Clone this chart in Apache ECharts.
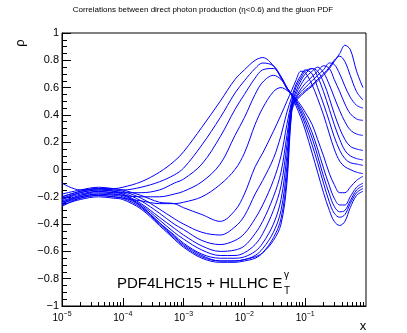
<!DOCTYPE html>
<html><head><meta charset="utf-8">
<script src="https://cdn.jsdelivr.net/npm/echarts@6/dist/echarts.min.js"></script>
<style>html,body{margin:0;padding:0;background:#fff}#c{width:407px;height:333px}</style>
</head><body><div id="c"></div>
<script>
// x sample positions (Bjorken x)
const xs = [1e-5, 2e-5, 4e-5, 7e-5, 1e-4, 2e-4, 4e-4, 7e-4, 1e-3, 2e-3, 4e-3, 7e-3, 0.01, 0.015, 0.02, 0.03, 0.04, 0.05, 0.06, 0.07, 0.085, 0.1, 0.13, 0.16, 0.2, 0.25, 0.3, 0.37, 0.45, 0.55, 0.7, 0.89];

// correlation curves, one per E_T bin
const curve01 = [-0.20, -0.16, -0.14, -0.14, -0.13, -0.09, -0.02, 0.06, 0.13, 0.31, 0.50, 0.66, 0.73, 0.80, 0.82, 0.76, 0.67, 0.59, 0.54, 0.47, 0.38, 0.29, 0.12, -0.02, -0.17, -0.30, -0.38, -0.41, -0.38, -0.28, -0.19, -0.16];
const curve02 = [-0.22, -0.17, -0.15, -0.15, -0.15, -0.13, -0.09, -0.04, 0.01, 0.18, 0.38, 0.56, 0.65, 0.74, 0.78, 0.76, 0.68, 0.60, 0.55, 0.49, 0.41, 0.33, 0.18, 0.05, -0.10, -0.24, -0.32, -0.35, -0.33, -0.25, -0.17, -0.14];
const curve03 = [-0.24, -0.19, -0.16, -0.17, -0.17, -0.17, -0.15, -0.10, -0.07, 0.04, 0.24, 0.44, 0.55, 0.67, 0.73, 0.74, 0.68, 0.60, 0.55, 0.50, 0.43, 0.36, 0.23, 0.10, -0.05, -0.18, -0.27, -0.31, -0.30, -0.23, -0.15, -0.12];
const curve04 = [-0.25, -0.20, -0.18, -0.18, -0.19, -0.20, -0.20, -0.18, -0.16, -0.09, 0.04, 0.25, 0.38, 0.55, 0.64, 0.69, 0.66, 0.60, 0.55, 0.51, 0.45, 0.39, 0.27, 0.15, 0.01, -0.12, -0.21, -0.26, -0.26, -0.20, -0.13, -0.10];
const curve05 = [-0.27, -0.21, -0.19, -0.20, -0.21, -0.23, -0.25, -0.25, -0.24, -0.20, -0.11, 0.00, 0.12, 0.33, 0.45, 0.57, 0.60, 0.58, 0.55, 0.52, 0.47, 0.42, 0.33, 0.22, 0.10, -0.03, -0.11, -0.17, -0.17, -0.13, -0.08, -0.05];
const curve06 = [-0.18, -0.15, -0.13, -0.14, -0.15, -0.19, -0.24, -0.25, -0.28, -0.33, -0.38, -0.30, -0.18, 0.02, 0.12, 0.28, 0.40, 0.50, 0.58, 0.65, 0.72, 0.71, 0.62, 0.52, 0.40, 0.26, 0.15, 0.06, 0.02, 0.00, -0.02, -0.03];
const curve07 = [-0.20, -0.16, -0.14, -0.15, -0.16, -0.21, -0.29, -0.36, -0.40, -0.46, -0.48, -0.42, -0.34, -0.18, -0.08, 0.08, 0.25, 0.42, 0.53, 0.62, 0.69, 0.73, 0.70, 0.60, 0.48, 0.35, 0.24, 0.14, 0.08, 0.05, 0.04, 0.03];
const curve08 = [-0.21, -0.17, -0.15, -0.16, -0.17, -0.23, -0.32, -0.40, -0.44, -0.52, -0.55, -0.52, -0.47, -0.36, -0.26, -0.08, 0.10, 0.33, 0.50, 0.60, 0.67, 0.72, 0.74, 0.68, 0.57, 0.44, 0.33, 0.22, 0.14, 0.10, 0.08, 0.07];
const curve09 = [-0.22, -0.18, -0.16, -0.17, -0.18, -0.25, -0.35, -0.43, -0.48, -0.56, -0.60, -0.59, -0.56, -0.47, -0.38, -0.20, -0.02, 0.25, 0.48, 0.57, 0.65, 0.70, 0.74, 0.72, 0.64, 0.52, 0.41, 0.30, 0.22, 0.17, 0.15, 0.14];
const curve10 = [-0.23, -0.19, -0.17, -0.18, -0.19, -0.26, -0.37, -0.46, -0.51, -0.59, -0.63, -0.63, -0.61, -0.55, -0.47, -0.30, -0.12, 0.18, 0.47, 0.55, 0.62, 0.67, 0.72, 0.75, 0.71, 0.62, 0.53, 0.43, 0.35, 0.29, 0.26, 0.25];
const curve11 = [-0.24, -0.20, -0.18, -0.19, -0.20, -0.27, -0.39, -0.48, -0.54, -0.62, -0.65, -0.65, -0.64, -0.60, -0.54, -0.40, -0.22, 0.10, 0.46, 0.53, 0.59, 0.63, 0.68, 0.72, 0.76, 0.74, 0.66, 0.57, 0.48, 0.41, 0.37, 0.36];
const curve12 = [-0.25, -0.21, -0.19, -0.20, -0.21, -0.28, -0.40, -0.50, -0.56, -0.64, -0.67, -0.67, -0.66, -0.63, -0.58, -0.46, -0.30, 0.02, 0.45, 0.52, 0.57, 0.60, 0.65, 0.69, 0.73, 0.78, 0.77, 0.70, 0.61, 0.53, 0.47, 0.45];
const curve13 = [-0.26, -0.22, -0.20, -0.21, -0.22, -0.29, -0.41, -0.51, -0.57, -0.65, -0.68, -0.68, -0.67, -0.65, -0.61, -0.50, -0.36, -0.05, 0.44, 0.51, 0.55, 0.58, 0.62, 0.66, 0.70, 0.75, 0.80, 0.83, 0.79, 0.69, 0.57, 0.51];
const curve14 = [-0.10, -0.15, -0.14, -0.16, -0.18, -0.27, -0.39, -0.49, -0.55, -0.63, -0.67, -0.67, -0.66, -0.64, -0.61, -0.52, -0.40, -0.10, 0.42, 0.50, 0.54, 0.57, 0.61, 0.65, 0.69, 0.74, 0.79, 0.85, 0.91, 0.88, 0.72, 0.60];

const curves = [curve01, curve02, curve03, curve04, curve05, curve06, curve07, curve08, curve09, curve10, curve11, curve12, curve13, curve14];

// axis ticks
const xMin = 1e-5, xMax = 1;
const xDecades = [1e-5, 1e-4, 1e-3, 1e-2, 1e-1];
const xMinorTicks = [];
xDecades.forEach(d => { for (let m = 2; m <= 9; m++) xMinorTicks.push(m * d); });
const yMin = -1, yMax = 1, yStep = 0.2;

const titleText = 'Correlations between direct photon production (\u03b7<0.6) and the gluon PDF';
const labelMain = 'PDF4LHC15 + HLLHC E';
const labelSup = '\u03b3';
const labelSub = 'T';
const yTitle = '\u03c1';
const xTitle = 'x';

const FONT = '"Liberation Sans", Arial, Helvetica, sans-serif';

const chart = echarts.init(document.getElementById('c'), null, {renderer: 'canvas'});

const series = curves.map((c, i) => ({
  type: 'line',
  xAxisIndex: 0,
  data: xs.map((x, j) => [x, c[j]]),
  showSymbol: false,
  smooth: 0.35,
  lineStyle: {color: '#0000ff', width: 1},
  silent: true
}));

chart.setOption({
  animation: false,
  backgroundColor: '#fff',
  grid: {left: 62, right: 41, top: 33, bottom: 27, show: true, borderColor: '#000', borderWidth: 1, backgroundColor: 'transparent'},
  xAxis: [
    {
      type: 'log', logBase: 10, min: xMin, max: xMax, position: 'bottom',
      axisLine: {show: true, onZero: false, lineStyle: {color: '#000', width: 1}},
      axisTick: {show: true, inside: true, length: 8, customValues: xDecades, lineStyle: {color: '#000'}},
      axisLabel: {
        margin: 5,
        customValues: xDecades,
        formatter: v => {
          const e = Math.round(Math.log10(v));
          if (e >= 0) return '';
          return '{b|10}{s|\u2212' + Math.abs(e) + '}';
        },
        rich: {
          b: {fontSize: 10, fontFamily: FONT, color: '#000', verticalAlign: 'bottom'},
          s: {fontSize: 7, fontFamily: FONT, color: '#000', verticalAlign: 'bottom', padding: [0, 0, 5, 0]}
        }
      },
      splitLine: {show: false}
    },
    {
      type: 'log', logBase: 10, min: xMin, max: xMax, position: 'bottom',
      axisLine: {show: false, onZero: false},
      axisTick: {show: true, inside: true, length: 4, customValues: xMinorTicks, lineStyle: {color: '#000'}},
      axisLabel: {show: false},
      splitLine: {show: false}
    }
  ],
  yAxis: {
    type: 'value', min: yMin, max: yMax, interval: yStep,
    axisLine: {show: true, onZero: false, lineStyle: {color: '#000', width: 1}},
    axisTick: {show: true, inside: true, length: 9, lineStyle: {color: '#000'}},
    minorTick: {show: true, splitNumber: 4, length: 5, lineStyle: {color: '#000'}},
    axisLabel: {
      margin: 3, fontSize: 11, fontFamily: FONT, color: '#000',
      formatter: v => {
        const r = Math.round(v * 10) / 10;
        if (r === 0) return '0';
        return (r < 0 ? '\u2212' : '') + Math.abs(r).toString();
      }
    },
    splitLine: {show: false},
    minorSplitLine: {show: false}
  },
  graphic: [
    {type: 'text', silent: true, style: {x: 203, y: 6, text: titleText, font: '8px ' + FONT, fill: '#000', textAlign: 'center', textVerticalAlign: 'top'}},
    {type: 'text', silent: true, x: 20, y: 43, rotation: Math.PI / 2, style: {x: 0, y: 0, text: yTitle, font: '13px ' + FONT, fill: '#000', textAlign: 'center', textVerticalAlign: 'middle'}},
    {type: 'text', silent: true, style: {x: 363, y: 326, text: xTitle, font: '13px ' + FONT, fill: '#000', textAlign: 'center', textVerticalAlign: 'middle'}},
    {type: 'text', silent: true, style: {x: 117, y: 276, text: labelMain, font: '15px ' + FONT, fill: '#000', textAlign: 'left', textVerticalAlign: 'top'}},
    {type: 'text', silent: true, style: {x: 284, y: 270, text: labelSup, font: '10px ' + FONT, fill: '#000', textAlign: 'left', textVerticalAlign: 'top'}},
    {type: 'text', silent: true, style: {x: 284, y: 286, text: labelSub, font: '10px ' + FONT, fill: '#000', textAlign: 'left', textVerticalAlign: 'top'}}
  ],
  series: series
});
</script>
</body></html>
